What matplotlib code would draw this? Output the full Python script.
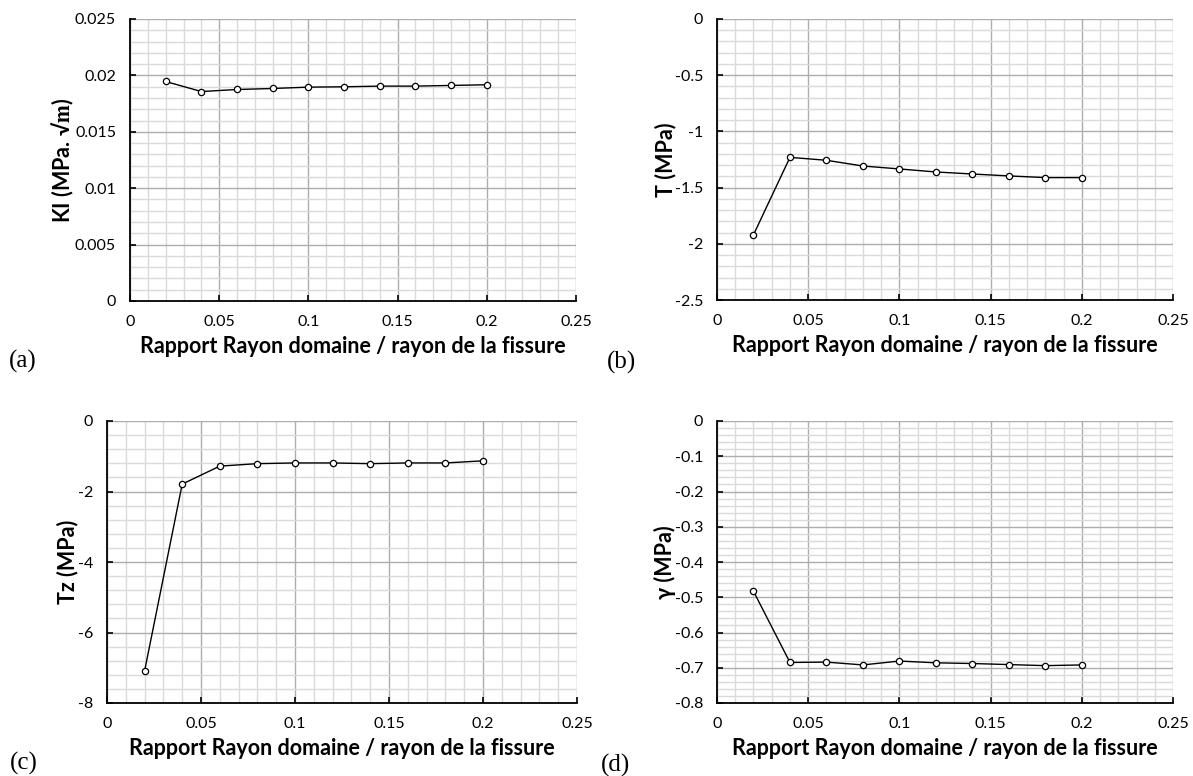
import matplotlib
matplotlib.use("Agg")
import matplotlib.pyplot as plt
from matplotlib.ticker import MultipleLocator, FuncFormatter

plt.rcParams['font.family'] = ['Lato', 'DejaVu Sans']
plt.rcParams['mathtext.fontset'] = 'stix'

# ---- data ----
ratio = [0.02, 0.04, 0.06, 0.08, 0.10, 0.12, 0.14, 0.16, 0.18, 0.20]
KI = [0.01946, 0.01857, 0.01875, 0.01884, 0.01896, 0.01899, 0.01905, 0.01905, 0.01911, 0.01917]
T = [-1.920, -1.231, -1.257, -1.308, -1.334, -1.361, -1.379, -1.396, -1.411, -1.411]
Tz = [-7.09, -1.79, -1.28, -1.21, -1.19, -1.19, -1.21, -1.19, -1.19, -1.13]
gamma = [-0.483, -0.685, -0.684, -0.692, -0.681, -0.686, -0.688, -0.691, -0.694, -0.692]

xlabel = "Rapport Rayon domaine / rayon de la fissure"
ylabels = ["KI (MPa. \u221a$\\mathbf{m}$)", "T (MPa)", "Tz (MPa)", "γ (MPa)"]
panel_tags = ["(a)", "(b)", "(c)", "(d)"]
series = [KI, T, Tz, gamma]
ylims = [(0, 0.025), (-2.5, 0), (-8, 0), (-0.8, 0)]
ymajor = [0.005, 0.5, 2, 0.1]
yminor = [0.001, 0.1, 0.4, 0.02]

W, H = 1193, 776
fig = plt.figure(figsize=(W / 100, H / 100), dpi=100)

# axes boxes in pixels: left, top, right, bottom
boxes = [(130, 19, 576, 301), (717, 19, 1173, 300),
         (107, 421, 577, 703), (717, 421, 1173, 703)]
ylabel_x = [-0.150, -0.112, -0.085, -0.114]
tag_pos = [(23, 361), (622, 362), (24, 763), (616, 765)]


def fmt(v, pos):
    v = round(v, 6)
    if abs(v) < 1e-12:
        return "0"
    return f"{v:g}"


for i in range(4):
    l, t, r, b = boxes[i]
    ax = fig.add_axes([l / W, 1 - b / H, (r - l) / W, (b - t) / H])
    ax.plot(ratio, series[i], color='black', lw=1.0, marker='o', ms=4.5,
            mfc='white', mec='black', mew=0.9, zorder=5, clip_on=False)
    ax.set_xlim(0, 0.25)
    ax.set_ylim(*ylims[i])
    ax.xaxis.set_major_locator(MultipleLocator(0.05))
    ax.xaxis.set_minor_locator(MultipleLocator(0.01))
    ax.yaxis.set_major_locator(MultipleLocator(ymajor[i]))
    ax.yaxis.set_minor_locator(MultipleLocator(yminor[i]))
    ax.xaxis.set_major_formatter(FuncFormatter(fmt))
    ax.yaxis.set_major_formatter(FuncFormatter(fmt))
    ax.grid(which='major', color='#adadad', lw=1.0)
    ax.grid(which='minor', color='#dadada', lw=1.0)
    ax.set_axisbelow(True)
    for s in ('top', 'right'):
        ax.spines[s].set_visible(False)
    for s in ('left', 'bottom'):
        ax.spines[s].set_color('black')
        ax.spines[s].set_linewidth(1.3)
    ax.tick_params(which='major', direction='in', length=4, width=1.2,
                   color='black', labelsize=11.5, labelcolor='black')
    ax.tick_params(which='minor', length=0)
    ax.tick_params(axis='x', which='major', pad=10)
    ax.tick_params(axis='y', which='major', pad=10)
    ax.set_xlabel(xlabel, fontsize=15.5, fontweight='bold')
    ax.xaxis.set_label_coords(0.5, -0.163)
    ax.xaxis.label.set(va='center')
    ax.set_ylabel(ylabels[i], fontsize=15.5, fontweight='bold')
    ax.yaxis.label.set(ha='center', va='center', rotation_mode='default')
    ax.yaxis.set_label_coords(ylabel_x[i], 0.5)
    fig.text(tag_pos[i][0] / W, 1 - tag_pos[i][1] / H, panel_tags[i],
             family='Liberation Serif', fontsize=18, ha='center', va='center')

fig.savefig("out.png", dpi=100)
